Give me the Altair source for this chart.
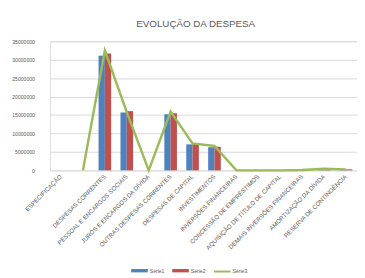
import altair as alt
import pandas as pd

categories = [
    "ESPECIFICAÇÃO", " ", "DESPESAS CORRENTES", "PESSOAL E ENCARGOS SOCIAIS",
    "JUROS E ENCARGOS DA DÍVIDA", "OUTRAS DESPESAS CORRENTES", "DESPESAS DE CAPITAL",
    "INVESTIMENTOS", "INVERSÕES FINANCEIRAS", "CONCESSÃO DE EMPRÉSTIMOS",
    "AQUISIÇÃO DE TÍTULO DE CAPITAL", "DEMAIS INVERSÕES FINANCEIRAS",
    "AMORTIZAÇÃO DA DÍVIDA", "RESERVA DE CONTINGÊNCIA",
]
serie1 = [None, None, 31100000, 15700000, 0, 15200000, 7050000, 6270000, 0, 0, 0, 0, 350000, 200000]
serie2 = [None, None, 31700000, 16050000, 0, 15500000, 7200000, 6400000, 0, 0, 0, 0, 400000, 280000]
serie3 = [None, 0, 32500000, 15800000, 0, 15950000, 7300000, 6600000, 0, 0, 0, 100000, 450000, 260000]
y_ticks = [0, 5000000, 10000000, 15000000, 20000000, 25000000, 30000000, 35000000]

rows = []
for c, a, b in zip(categories, serie1, serie2):
    rows.append({"cat": c, "serie": "Série1", "valor": a})
    rows.append({"cat": c, "serie": "Série2", "valor": b})
bars_df = pd.DataFrame(rows)
line_df = pd.DataFrame({"cat": categories, "serie": ["Série3"] * len(categories), "valor": serie3})

FONT = "Liberation Sans"
GRAY = "#595959"

x_enc = alt.X(
    "cat:N", sort=categories, title=None,
    scale=alt.Scale(paddingInner=0, paddingOuter=0),
    axis=alt.Axis(labelAngle=-45, labelAlign="right", labelBaseline="middle",
                  labelFontSize=6.2, labelFont=FONT, labelColor=GRAY, labelPadding=5,
                  ticks=False, domain=False, grid=False, labelOverlap=False,
                  labelLimit=200),
)
y_axis = alt.Axis(values=y_ticks, tickCount=8, format="d", labelFontSize=5.2, labelFont=FONT,
                  labelColor=GRAY, labelPadding=16, ticks=False, domain=False,
                  labelOverlap=False, gridColor="#D9D9D9", gridWidth=1)
y_scale = alt.Scale(domain=[0, 35000000], nice=False)

bars = alt.Chart(bars_df).mark_bar().encode(
    x=x_enc,
    y=alt.Y("valor:Q", title=None, scale=y_scale, axis=y_axis),
    xOffset=alt.XOffset("serie:N", scale=alt.Scale(paddingInner=0, paddingOuter=0.74)),
    fill=alt.Fill("serie:N", scale=alt.Scale(domain=["Série1", "Série2"], range=["#4F81BD", "#C0504D"]),
                  legend=alt.Legend(title=None, orient="none", legendX=83, legendY=226,
                                    direction="horizontal", symbolType="M-1,-0.2H1V0.2H-1Z",
                                    symbolSize=289, symbolStrokeWidth=0, labelFontSize=5.2,
                                    labelFont=FONT, labelColor=GRAY, labelOffset=2,
                                    columnPadding=8)),
)

line = alt.Chart(line_df).mark_line(strokeWidth=2.5).encode(
    x=x_enc,
    y=alt.Y("valor:Q", title=None, scale=y_scale, axis=y_axis),
    stroke=alt.Stroke("serie:N", scale=alt.Scale(domain=["Série3"], range=["#9BBB59"]),
                      legend=alt.Legend(title=None, orient="none", legendX=166.7, legendY=226,
                                        direction="horizontal", symbolType="stroke",
                                        symbolSize=289, symbolStrokeWidth=2, labelFontSize=5.2,
                                        labelFont=FONT, labelColor=GRAY, labelOffset=1)),
)

chart = alt.layer(bars, line).properties(
    width=314, height=132,
    title=alt.TitleParams("EVOLUÇÃO DA DESPESA", anchor="middle", dx=-8, offset=11,
                          fontSize=10, font=FONT, fontWeight="normal", color=GRAY),
    autosize=alt.AutoSizeParams(type="none"),
    padding={"left": 43, "top": 31, "right": 0, "bottom": 105},
).configure_view(stroke=None).configure(background="white")

chart.save("out.html", embed_options={"renderer": "svg", "actions": False})
